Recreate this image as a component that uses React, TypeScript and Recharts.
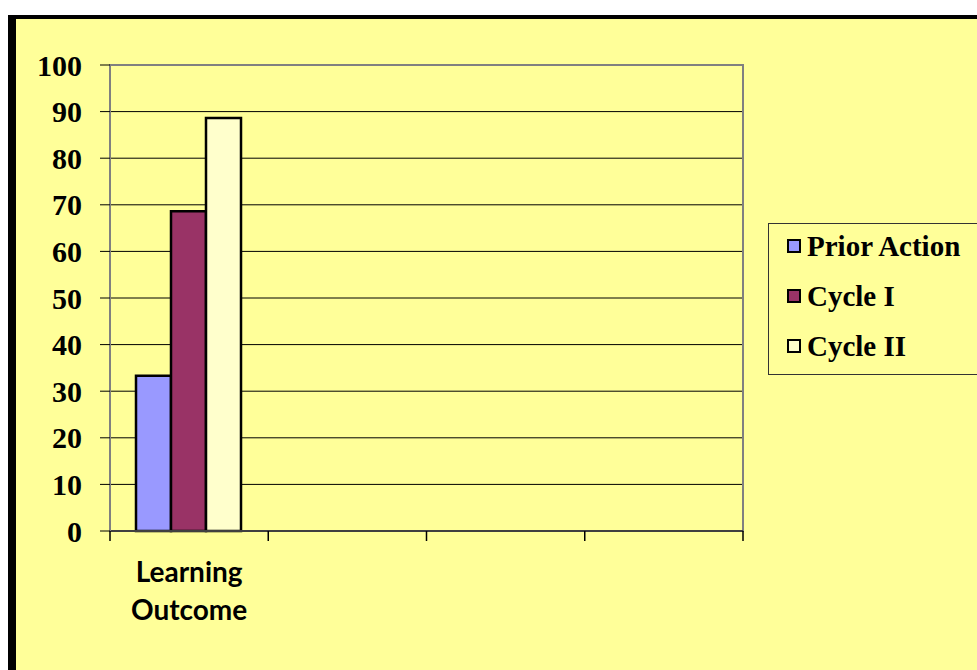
import React from "react";
import {
  BarChart,
  Bar,
  XAxis,
  YAxis,
  CartesianGrid,
  ReferenceArea,
} from "recharts";

// categories along the x axis (only the first one carries data)
const categories = ["Learning Outcome", "", "", ""];
const priorAction = [33.3, null, null, null];
const cycleOne = [68.6, null, null, null];
const cycleTwo = [88.6, null, null, null];
const yTicks = [0, 10, 20, 30, 40, 50, 60, 70, 80, 90, 100];

const series = [
  { key: "prior", name: "Prior Action", color: "#9999FF" },
  { key: "c1", name: "Cycle I", color: "#993366" },
  { key: "c2", name: "Cycle II", color: "#FFFFCC" },
];

const data = categories.map((name, i) => ({
  name,
  prior: priorAction[i],
  c1: cycleOne[i],
  c2: cycleTwo[i],
}));

const PLOT_LEFT = 110;
const PLOT_RIGHT = 743;
const BAND = (PLOT_RIGHT - PLOT_LEFT) / categories.length;

const serif = "'Liberation Serif', 'Times New Roman', serif";

const XTick = (props: any) => {
  const { x, y, payload, index } = props;
  const words = String(payload.value || "").split(" ").filter(Boolean);
  const left = x - BAND / 2;
  return (
    <g>
      <line x1={left} y1={y} x2={left} y2={y + 10} stroke="#000" strokeWidth={1.5} />
      {index === categories.length - 1 && (
        <line x1={x + BAND / 2} y1={y} x2={x + BAND / 2} y2={y + 10} stroke="#000" strokeWidth={1.5} />
      )}
      {words.map((w, i) => (
        <text
          key={i}
          x={x}
          y={y + 51 + i * 38}
          textAnchor="middle"
          fontFamily="Lato, 'Noto Sans', sans-serif"
          fontWeight={700}
          fontSize={28}
          fill="#000"
        >
          {w}
        </text>
      ))}
    </g>
  );
};

// legend box to the right of the plot, drawn from the same series list
const LegendBox = () => (
  <div
    style={{
      position: "absolute",
      left: 768,
      top: 223,
      boxSizing: "border-box",
      width: 260,
      height: 152,
      border: "1.5px solid #333",
      background: "#FFFF99",
    }}
  >
    <div style={{ marginTop: -3 }}>
      {series.map((s) => (
        <div
          key={s.key}
          style={{ display: "flex", alignItems: "center", height: 50, paddingLeft: 18 }}
        >
          <span
            style={{
              display: "inline-block",
              width: 10,
              height: 10,
              border: "2px solid #000",
              background: s.color,
              marginRight: 6,
            }}
          />
          <span
            style={{
              fontFamily: serif,
              fontWeight: 700,
              fontSize: 29,
              color: "#000",
              lineHeight: "29px",
            }}
          >
            {s.name}
          </span>
        </div>
      ))}
    </div>
  </div>
);

export default function App() {
  return (
    <div style={{ position: "fixed", inset: 0, overflow: "hidden", background: "#fff" }}>
      <div
        style={{
          position: "absolute",
          left: 8,
          top: 15,
          width: 1100,
          height: 800,
          borderTop: "4px solid #000",
          borderLeft: "8px solid #000",
          background: "#FFFF99",
        }}
      />
      <div style={{ position: "absolute", left: 0, top: 0 }}>
        <BarChart
          width={977}
          height={670}
          data={data}
          margin={{ top: 65, right: 977 - PLOT_RIGHT, bottom: 79, left: 20 }}
          barCategoryGap={26}
          barGap={0}
        >
          <CartesianGrid vertical={false} stroke="#000" strokeWidth={1} />
          <ReferenceArea y1={0} y2={100} fill="none" stroke="#808080" strokeWidth={2} fillOpacity={0} />
          <XAxis
            dataKey="name"
            height={60}
            tickLine={false}
            tickSize={0}
            tickMargin={0}
            axisLine={{ stroke: "#404040", strokeWidth: 2 }}
            tick={<XTick />}
            interval={0}
          />
          <YAxis
            width={90}
            domain={[0, 100]}
            ticks={yTicks}
            interval={0}
            tickSize={10}
            tickMargin={18}
            tickLine={{ stroke: "#000", strokeWidth: 1 }}
            axisLine={{ stroke: "#808080", strokeWidth: 2 }}
            tick={{ fontFamily: serif, fontWeight: 700, fontSize: 30, fill: "#000" }}
          />
          {series.map((s) => (
            <Bar
              key={s.key}
              dataKey={s.key}
              name={s.name}
              fill={s.color}
              stroke="#000"
              strokeWidth={2.5}
              isAnimationActive={false}
            />
          ))}
        </BarChart>
      </div>
      <LegendBox />
    </div>
  );
}
